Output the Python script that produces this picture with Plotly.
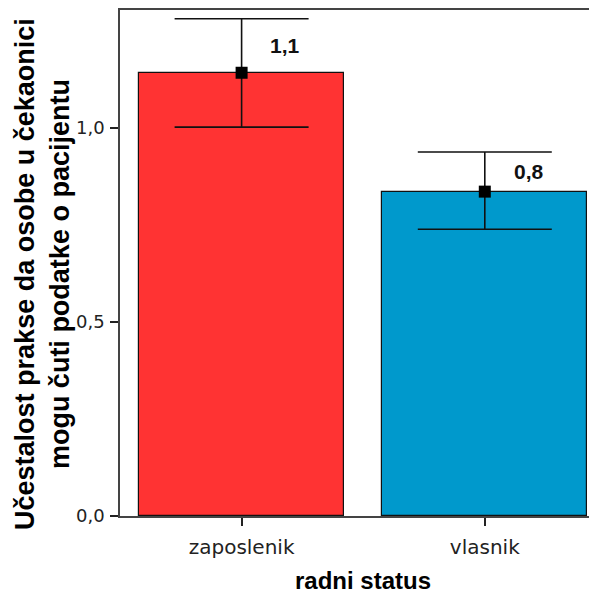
import plotly.graph_objects as go

categories = ["zaposlenik", "vlasnik"]
means = [1.141, 0.835]
ci_upper = [1.280, 0.937]
ci_lower = [1.001, 0.738]
value_labels = ["1,1", "0,8"]
bar_colors = ["#FF3333", "#0099CC"]
y_tickvals = [0.0, 0.5, 1.0]
y_ticktext = ["0,0", "0,5", "1,0"]
y_title = "Učestalost prakse da osobe u čekaonici<br>mogu čuti podatke o pacijentu"
x_title = "radni status"

# the page body adds ~8px offset; figure sized to fit the window
FIG_W, FIG_H = 589, 588
ML, MR, MT, MB = 112, 0, 0, 80
PW = FIG_W - ML - MR
PH = FIG_H - MT - MB
PX_PER_CAT = 243.2

xpos = list(range(len(categories)))
err_plus = [u - m for u, m in zip(ci_upper, means)]
err_minus = [m - l for m, l in zip(means, ci_lower)]

fig = go.Figure()
fig.add_trace(go.Bar(
    x=xpos, y=means, width=0.843,
    marker=dict(color=bar_colors, line=dict(color="#111111", width=1.2)),
    error_y=dict(type="data", symmetric=False, array=err_plus, arrayminus=err_minus,
                 color="#111111", thickness=1.6, width=67),
    showlegend=False, hoverinfo="skip",
))
fig.add_trace(go.Scatter(
    x=xpos, y=means, mode="markers",
    marker=dict(symbol="square", size=12, color="#000000"),
    showlegend=False, hoverinfo="skip",
))

for i, lab in enumerate(value_labels):
    fig.add_annotation(
        x=i + 0.18, y=(means[i] + ci_upper[i]) / 2, xref="x", yref="y",
        text=lab, showarrow=False,
        font=dict(family="Liberation Sans, Arial", size=21, color="#111111", weight="bold"),
        xanchor="center", yanchor="middle",
    )

fig.add_annotation(
    x=-0.5 + (355 - ML) / PX_PER_CAT, y=-(573 - PH) / PH, xref="x", yref="paper",
    text=x_title, showarrow=False,
    font=dict(family="Liberation Sans, Arial", size=24, color="#000000", weight="bold"),
    xanchor="center", yanchor="middle",
)
fig.add_annotation(
    x=(35 - ML) / PW, y=(PH - 265) / PH, xref="paper", yref="paper",
    text=y_title, showarrow=False, textangle=-90,
    font=dict(family="Liberation Sans, Arial", size=27, color="#000000", weight="bold"),
    xanchor="center", yanchor="middle",
)

fig.update_layout(
    width=FIG_W, height=FIG_H,
    margin=dict(l=ML, r=MR, t=MT, b=MB, pad=0),
    paper_bgcolor="white", plot_bgcolor="white",
    bargap=0,
)
fig.update_xaxes(
    range=[-0.5, -0.5 + PW / PX_PER_CAT], tickvals=xpos, ticktext=categories,
    showline=True, linecolor="#444444", linewidth=1.5, mirror=True,
    ticks="outside", ticklen=8, tickwidth=2, tickcolor="#222222",
    ticklabelstandoff=4,
    tickfont=dict(family="DejaVu Sans", size=20, color="#222222"),
    showgrid=False, zeroline=False,
)
fig.update_yaxes(
    range=[0, PH / 390.0], tickvals=y_tickvals, ticktext=y_ticktext,
    showline=True, linecolor="#444444", linewidth=1.5,
    ticks="outside", ticklen=8, tickwidth=2, tickcolor="#222222",
    ticklabelstandoff=2,
    tickfont=dict(family="DejaVu Sans", size=18, color="#222222"),
    showgrid=False, zeroline=False,
)

fig.write_html("out.html")
